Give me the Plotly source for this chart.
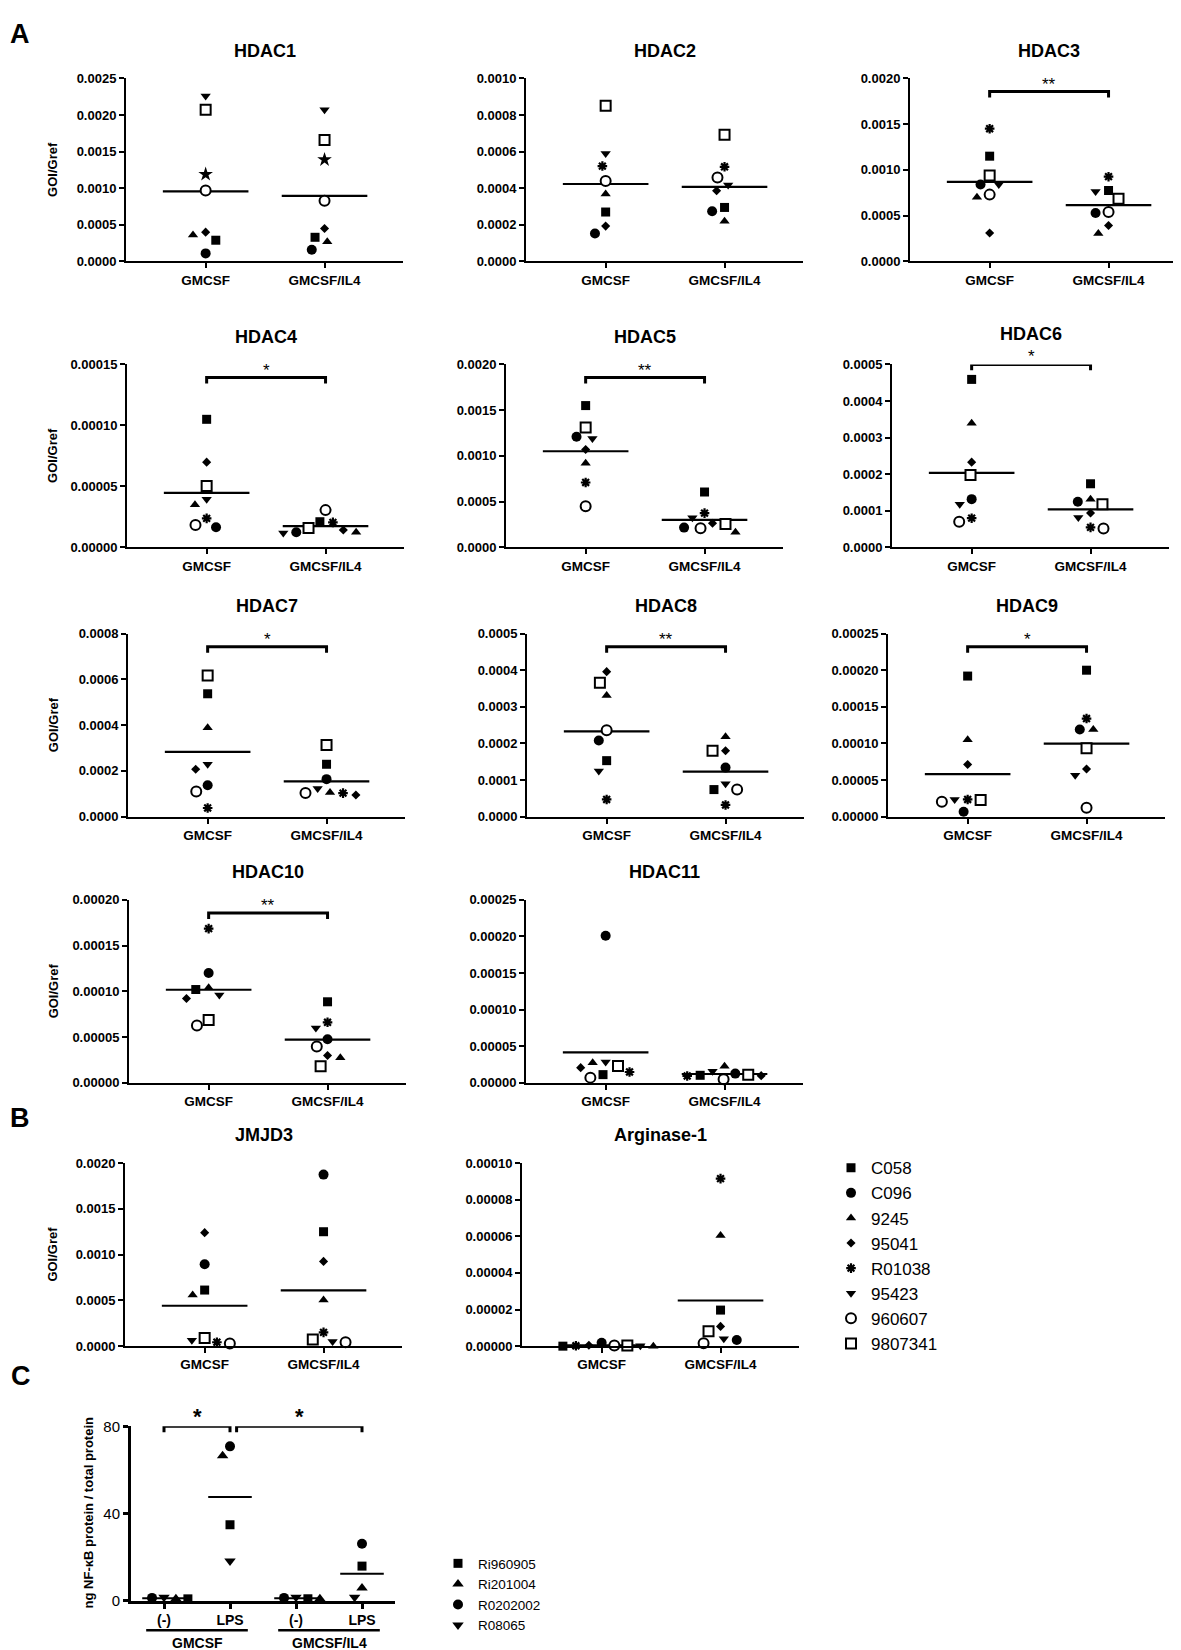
import numpy as np
import plotly.graph_objects as go

W, H = 1181, 1650
FONT = "Liberation Sans, Arial, sans-serif"

# ---------------- data ----------------
donors = ["C058", "C096", "9245", "95041", "R01038", "95423", "960607", "9807341"]
groups = ["GMCSF", "GMCSF/IL4"]

# values listed in donor order
hdac1_gmcsf = [2.9e-4, 1.1e-4, 3.6e-4, 4.0e-4, 1.19e-3, 2.26e-3, 9.7e-4, 2.07e-3]
hdac1_il4 = [3.3e-4, 1.6e-4, 2.7e-4, 4.5e-4, 1.39e-3, 2.07e-3, 8.3e-4, 1.66e-3]
hdac2_gmcsf = [2.70e-4, 1.53e-4, 3.69e-4, 1.93e-4, 5.21e-4, 5.89e-4, 4.40e-4, 8.50e-4]
hdac2_il4 = [2.95e-4, 2.74e-4, 2.20e-4, 3.86e-4, 5.17e-4, 4.18e-4, 4.58e-4, 6.92e-4]
hdac3_gmcsf = [1.15e-3, 8.4e-4, 7.0e-4, 3.1e-4, 1.45e-3, 8.4e-4, 7.3e-4, 9.4e-4]
hdac3_il4 = [7.75e-4, 5.3e-4, 3.06e-4, 3.93e-4, 9.26e-4, 7.64e-4, 5.4e-4, 6.85e-4]
hdac4_gmcsf = [1.05e-4, 1.65e-5, 3.49e-5, 6.99e-5, 2.38e-5, 3.95e-5, 1.84e-5, 5.04e-5]
hdac4_il4 = [2.11e-5, 1.25e-5, 1.25e-5, 1.43e-5, 2.06e-5, 1.19e-5, 3.06e-5, 1.60e-5]
hdac5_gmcsf = [1.55e-3, 1.21e-3, 9.2e-4, 1.07e-3, 7.1e-4, 1.19e-3, 4.5e-4, 1.31e-3]
hdac5_il4 = [6.06e-4, 2.17e-4, 1.66e-4, 2.64e-4, 3.75e-4, 3.25e-4, 2.09e-4, 2.56e-4]
hdac6_gmcsf = [4.59e-4, 1.32e-4, 3.39e-4, 2.33e-4, 8.0e-5, 1.18e-4, 7.0e-5, 1.98e-4]
hdac6_il4 = [1.74e-4, 1.25e-4, 1.32e-4, 9.4e-5, 5.5e-5, 8.2e-5, 5.2e-5, 1.18e-4]
hdac7_gmcsf = [5.37e-4, 1.37e-4, 3.88e-4, 2.07e-4, 3.8e-5, 2.29e-4, 1.10e-4, 6.17e-4]
hdac7_il4 = [2.29e-4, 1.64e-4, 1.06e-4, 9.5e-5, 1.03e-4, 1.23e-4, 1.03e-4, 3.13e-4]
hdac8_gmcsf = [1.53e-4, 2.08e-4, 3.31e-4, 3.96e-4, 4.7e-5, 1.25e-4, 2.36e-4, 3.66e-4]
hdac8_il4 = [7.4e-5, 1.34e-4, 2.18e-4, 1.80e-4, 3.2e-5, 9.0e-5, 7.4e-5, 1.80e-4]
hdac9_gmcsf = [1.92e-4, 6.8e-6, 1.05e-4, 7.13e-5, 2.35e-5, 2.35e-5, 2.03e-5, 2.26e-5]
hdac9_il4 = [2.00e-4, 1.19e-4, 1.19e-4, 6.5e-5, 1.34e-4, 5.64e-5, 1.22e-5, 9.34e-5]
hdac10_gmcsf = [1.02e-4, 1.20e-4, 1.04e-4, 9.22e-5, 1.685e-4, 9.6e-5, 6.26e-5, 6.87e-5]
hdac10_il4 = [8.86e-5, 4.77e-5, 2.75e-5, 3.0e-5, 6.62e-5, 6.0e-5, 3.98e-5, 1.81e-5]
hdac11_gmcsf = [1.13e-5, 2.01e-4, 2.76e-5, 2.08e-5, 1.49e-5, 2.85e-5, 7.2e-6, 2.3e-5]
hdac11_il4 = [1.04e-5, 1.27e-5, 2.26e-5, 9.9e-6, 9.5e-6, 1.58e-5, 5.0e-6, 1.13e-5]
jmjd3_gmcsf = [6.13e-4, 8.94e-4, 5.59e-4, 1.24e-3, 4.3e-5, 6.5e-5, 2.9e-5, 9.0e-5]
jmjd3_il4 = [1.25e-3, 1.874e-3, 5.05e-4, 9.26e-4, 1.51e-4, 5.0e-5, 4.3e-5, 7.2e-5]
arg1_gmcsf = [0.0, 1.8e-6, 0.0, 5e-7, 2e-7, 2e-7, 3e-7, 3e-7]
arg1_il4 = [1.97e-5, 3.4e-6, 6.05e-5, 1.08e-5, 9.15e-5, 4.0e-6, 1.6e-6, 8.1e-6]

# panel: gene, gmcsf values, il4 values, axis max, tick step, tick format
panels = [
    ("HDAC1", hdac1_gmcsf, hdac1_il4, 0.0025, 0.0005, ".4f"),
    ("HDAC2", hdac2_gmcsf, hdac2_il4, 0.0010, 0.0002, ".4f"),
    ("HDAC3", hdac3_gmcsf, hdac3_il4, 0.0020, 0.0005, ".4f"),
    ("HDAC4", hdac4_gmcsf, hdac4_il4, 0.00015, 0.00005, ".5f"),
    ("HDAC5", hdac5_gmcsf, hdac5_il4, 0.0020, 0.0005, ".4f"),
    ("HDAC6", hdac6_gmcsf, hdac6_il4, 0.0005, 0.0001, ".4f"),
    ("HDAC7", hdac7_gmcsf, hdac7_il4, 0.0008, 0.0002, ".4f"),
    ("HDAC8", hdac8_gmcsf, hdac8_il4, 0.0005, 0.0001, ".4f"),
    ("HDAC9", hdac9_gmcsf, hdac9_il4, 0.00025, 0.00005, ".5f"),
    ("HDAC10", hdac10_gmcsf, hdac10_il4, 0.00020, 0.00005, ".5f"),
    ("HDAC11", hdac11_gmcsf, hdac11_il4, 0.00025, 0.00005, ".5f"),
    ("JMJD3", jmjd3_gmcsf, jmjd3_il4, 0.0020, 0.0005, ".4f"),
    ("Arginase-1", arg1_gmcsf, arg1_il4, 0.00010, 0.00002, ".5f"),
]

significance = {"HDAC3": "**", "HDAC4": "*", "HDAC5": "**", "HDAC6": "*",
                "HDAC7": "*", "HDAC8": "**", "HDAC9": "*", "HDAC10": "**"}

# panel C
c_donors = ["Ri960905", "Ri201004", "R0202002", "R08065"]
c_conditions = ["(-)", "LPS", "(-)", "LPS"]
c_treatments = ["GMCSF", "GMCSF/IL4"]
c_gmcsf_neg = [0.76, 0.8, 1.2, 1.5]
c_gmcsf_lps = [34.8, 66.5, 70.8, 18.2]
c_il4_neg = [0.8, 0.8, 1.2, 1.5]
c_il4_lps = [15.8, 5.8, 26.1, 1.5]

# ---------------- styles / layout ----------------
donor_style = {
    "C058": dict(symbol="square", size=9, color="black"),
    "C096": dict(symbol="circle", size=10, color="black"),
    "9245": dict(symbol="triangle-up", size=9, color="black"),
    "95041": dict(symbol="diamond", size=7, color="black"),
    "R01038": dict(symbol="asterisk-open", size=8, color="black", line=dict(width=2.2, color="black")),
    "95423": dict(symbol="triangle-down", size=9, color="black"),
    "960607": dict(symbol="circle", size=10, color="white", line=dict(width=2, color="black")),
    "9807341": dict(symbol="square", size=10, color="white", line=dict(width=2, color="black")),
}
c_style = {
    "Ri960905": dict(symbol="square", size=9, color="black"),
    "Ri201004": dict(symbol="triangle-up", size=10, color="black"),
    "R0202002": dict(symbol="circle", size=10, color="black"),
    "R08065": dict(symbol="triangle-down", size=10, color="black"),
}

positions = {  # left px, top px
    "HDAC1": (118, 62), "HDAC2": (518, 62), "HDAC3": (902, 62),
    "HDAC4": (119, 351), "HDAC5": (498, 351), "HDAC6": (884, 351),
    "HDAC7": (120, 623), "HDAC8": (519, 623), "HDAC9": (880, 623),
    "HDAC10": (121, 892), "HDAC11": (518, 892),
    "JMJD3": (117, 1158), "Arginase-1": (514, 1158),
}
ytitle_panels = {"HDAC1", "HDAC4", "HDAC7", "HDAC10", "JMJD3"}
PW, PH = 277, 185
XR = [0.33, 2.66]
PX_PER_CAT = PW / (XR[1] - XR[0])


def fx(p):
    return p / W


def fy(p):
    return 1 - p / H


def swarm(vals, px_per_unit, D):
    """beeswarm offsets (px) so that markers do not overlap"""
    order = sorted(range(len(vals)), key=lambda i: -vals[i])
    placed, offs = [], [0.0] * len(vals)
    for i in order:
        y = vals[i] * px_per_unit
        iv = []
        for xj, yj in placed:
            dy = abs(y - yj)
            if dy < D:
                w = np.sqrt(D * D - dy * dy)
                iv.append((xj - w, xj + w))
        cands = [0.0] + [a for a, b in iv] + [b for a, b in iv]
        best = 0.0
        for c in sorted(cands, key=lambda v: (round(abs(v), 6), v)):
            if all(not (a + 1e-6 < c < b - 1e-6) for a, b in iv):
                best = c
                break
        offs[i] = best
        placed.append((best, y))
    return offs


def note(text, x, y, size, xref="paper", yref="paper", bold=True, angle=0,
         xanchor="center", yanchor="middle", yshift=0):
    return dict(text=("<b>%s</b>" % text) if bold else text, x=x, y=y, xref=xref, yref=yref,
                showarrow=False, textangle=angle, xanchor=xanchor, yanchor=yanchor,
                yshift=yshift, font=dict(family=FONT, size=size, color="black"))


fig = go.Figure()
layout = {}
annotations = []
shapes = []

ytickfont = dict(family=FONT, size=13, color="black", weight="bold")
xtickfont = dict(family=FONT, size=13.5, color="black", weight="bold")

for k, (gene, gm, il4, ymax, dt, fmt) in enumerate(panels, start=1):
    sfx = "" if k == 1 else str(k)
    xr, yr = "x" + sfx, "y" + sfx
    left, top = positions[gene]
    layout["xaxis" + sfx] = dict(
        domain=[fx(left), fx(left + PW)], anchor=yr, range=XR,
        tickvals=[1, 2], ticktext=groups, tickfont=xtickfont,
        showline=True, linecolor="black", linewidth=2, ticks="outside",
        ticklen=5, tickwidth=2, tickcolor="black", showgrid=False, zeroline=False)
    layout["yaxis" + sfx] = dict(
        domain=[fy(top + PH), fy(top)], anchor=xr, range=[0, ymax],
        tick0=0, dtick=dt, tickformat=fmt, tickfont=ytickfont,
        showline=True, linecolor="black", linewidth=2, ticks="outside",
        ticklen=5, tickwidth=2, tickcolor="black", showgrid=False, zeroline=False)
    title_gap = 31 if gene == "HDAC6" else 28
    annotations.append(note(gene, fx(left + PW / 2), fy(top - title_gap), 18))
    if gene in ytitle_panels:
        annotations.append(note("GOI/Gref", fx(45), fy(top + PH / 2), 13, angle=-90))
    # means
    for g, vals in enumerate([gm, il4]):
        m = float(np.mean(vals))
        fig.add_trace(go.Scatter(x=[g + 1 - 0.36, g + 1 + 0.36], y=[m, m], mode="lines",
                                 line=dict(color="black", width=2.2), xaxis=xr, yaxis=yr,
                                 showlegend=False, hoverinfo="skip"))
    # swarm positions
    ppu = PH / ymax
    offs = [swarm(vals, ppu, 13) for vals in (gm, il4)]
    for i, d in enumerate(donors):
        st = dict(donor_style[d])
        if gene == "HDAC1" and d == "R01038":
            st = dict(symbol="star", size=11, color="black")
        xs = [1 + offs[0][i] / PX_PER_CAT, 2 + offs[1][i] / PX_PER_CAT]
        fig.add_trace(go.Scatter(x=xs, y=[gm[i], il4[i]], mode="markers", name=d,
                                 marker=st, xaxis=xr, yaxis=yr, cliponaxis=False,
                                 legendgroup=d, showlegend=(gene == "JMJD3")))
    # significance bracket
    if gene in significance:
        level = ymax * (1.0 if gene == "HDAC6" else 0.928)
        drop = 6 / ppu
        fig.add_trace(go.Scatter(x=[1, 1, 2, 2], y=[level - drop, level, level, level - drop],
                                 mode="lines", line=dict(color="black", width=3),
                                 xaxis=xr, yaxis=yr, showlegend=False, hoverinfo="skip",
                                 cliponaxis=False))
        annotations.append(note(significance[gene], 1.5, level, 17, xref=xr, yref=yr,
                                bold=False, yanchor="bottom", yshift=-4))

# ---------------- panel C ----------------
k = len(panels) + 1
sfx = str(k)
xr, yr = "x" + sfx, "y" + sfx
CL, CT, CW, CH = 123, 1424, 264, 176
layout["xaxis" + sfx] = dict(
    domain=[fx(CL), fx(CL + CW)], anchor=yr, range=[0.5, 4.5],
    tickvals=[1, 2, 3, 4], ticktext=c_conditions,
    tickfont=dict(family=FONT, size=14, color="black", weight="bold"),
    showline=True, linecolor="black", linewidth=3, ticks="outside",
    ticklen=5, tickwidth=2.5, tickcolor="black", showgrid=False, zeroline=False)
layout["yaxis" + sfx] = dict(
    domain=[fy(CT + CH), fy(CT)], anchor=xr, range=[0, 80], tickvals=[0, 40, 80],
    tickfont=dict(family=FONT, size=15, color="black"),
    showline=True, linecolor="black", linewidth=3, ticks="outside",
    ticklen=5, tickwidth=2.5, tickcolor="black", showgrid=False, zeroline=False)
c_sets = [c_gmcsf_neg, c_gmcsf_lps, c_il4_neg, c_il4_lps]
c_ppu = CH / 80
c_px_per_cat = CW / 4.0
for j, vals in enumerate(c_sets):
    m = float(np.mean(vals))
    fig.add_trace(go.Scatter(x=[j + 1 - 0.33, j + 1 + 0.33], y=[m, m], mode="lines",
                             line=dict(color="black", width=2), xaxis=xr, yaxis=yr,
                             showlegend=False, hoverinfo="skip", cliponaxis=False))
c_offs = [swarm(vals, c_ppu, 12) for vals in c_sets]
for i, d in enumerate(c_donors):
    xs = [j + 1 + c_offs[j][i] / c_px_per_cat for j in range(4)]
    ys = [c_sets[j][i] for j in range(4)]
    fig.add_trace(go.Scatter(x=xs, y=ys, mode="markers", name=d, marker=c_style[d],
                             xaxis=xr, yaxis=yr, cliponaxis=False, legend="legend2"))
c_drop = 6 / c_ppu
for (a, b), star_x in [((1, 2), 1.5), ((2.1, 4), 3.05)]:
    fig.add_trace(go.Scatter(x=[a, a, b, b], y=[80 - c_drop, 80, 80, 80 - c_drop], mode="lines",
                             line=dict(color="black", width=3), xaxis=xr, yaxis=yr,
                             showlegend=False, hoverinfo="skip", cliponaxis=False))
    annotations.append(note("*", star_x, 80, 22, xref=xr, yref=yr, yanchor="bottom", yshift=-5))
for g, (a, b) in enumerate([(0.73, 2.27), (2.73, 4.27)]):
    shapes.append(dict(type="line", xref=xr, yref="paper", x0=a, x1=b,
                       y0=fy(1630), y1=fy(1630), line=dict(color="black", width=2.5)))
    annotations.append(note(c_treatments[g], (a + b) / 2, fy(1643), 14, xref=xr))
annotations.append(note("ng NF-\u03baB protein / total protein", fx(80), fy(CT + CH / 2), 13,
                        angle=-90))

# panel letters
for letter, (px, py) in {"A": (12, 17), "B": (12, 1112), "C": (13, 1373)}.items():
    annotations.append(note(letter, fx(px), fy(py), 27))

fig.update_layout(
    width=W, height=H, margin=dict(l=0, r=0, t=0, b=0),
    paper_bgcolor="white", plot_bgcolor="white",
    font=dict(family=FONT, color="black"),
    annotations=annotations, shapes=shapes, showlegend=True,
    legend=dict(x=fx(823), y=fy(1145), xanchor="left", yanchor="top",
                font=dict(family=FONT, size=17, color="black"),
                bgcolor="rgba(0,0,0,0)", tracegroupgap=0),
    legend2=dict(x=fx(430), y=fy(1547), xanchor="left", yanchor="top",
                 font=dict(family=FONT, size=13.5, color="black"),
                 bgcolor="rgba(0,0,0,0)", tracegroupgap=0),
    **layout,
)

fig.write_html("out.html")
